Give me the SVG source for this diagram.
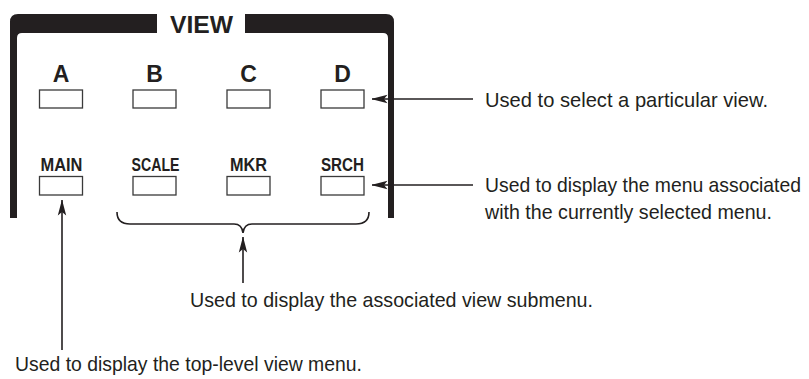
<svg xmlns="http://www.w3.org/2000/svg" width="809" height="379" viewBox="0 0 809 379">
<style>
.frame{fill:#231f20}
.btn{fill:#fff;stroke:#3a3a3a;stroke-width:1.3}
.lbl{font-family:"Liberation Sans",Arial,sans-serif;font-weight:bold;fill:#231f20;text-anchor:middle}
.big{font-size:23px}
.sm{font-size:19px}
.note{font-family:"Liberation Sans",Arial,sans-serif;font-size:21px;fill:#231f20}
.ln{stroke:#231f20;stroke-width:1.6;fill:none}
</style>
<defs>
<marker id="ah" viewBox="0 0 16 10" refX="15.5" refY="5" markerWidth="16" markerHeight="10" markerUnits="userSpaceOnUse" orient="auto">
<path d="M16,5 L0,0.8 L3.5,5 L0,9.2 Z" fill="#231f20"/>
</marker>
</defs>
<g id="panel">
<path class="frame" d="M10,218 V22 Q10,14 18,14 H157 V33 H22 Q17,33 17,38 V218 Z"/>
<path class="frame" d="M245,14 H386 Q394,14 394,22 V218 H388 V38 Q388,33 383,33 H245 Z"/>
<text class="lbl" x="201.5" y="33" font-size="24" textLength="63" lengthAdjust="spacingAndGlyphs">VIEW</text>
</g>
<g id="btnA"><text class="lbl big" x="61" y="82">A</text><rect class="btn" x="39.5" y="90" width="43" height="18"/></g>
<g id="btnB"><text class="lbl big" x="154.5" y="82">B</text><rect class="btn" x="133" y="90" width="43" height="18"/></g>
<g id="btnC"><text class="lbl big" x="248.5" y="82">C</text><rect class="btn" x="227" y="90" width="43" height="18"/></g>
<g id="btnD"><text class="lbl big" x="342.5" y="82">D</text><rect class="btn" x="321" y="90" width="43" height="18"/></g>
<g id="btnMAIN"><text class="lbl sm" x="61.5" y="171" textLength="42" lengthAdjust="spacingAndGlyphs">MAIN</text><rect class="btn" x="39.5" y="176.5" width="43" height="18.5"/></g>
<g id="btnSCALE"><text class="lbl sm" x="155.5" y="171" textLength="48" lengthAdjust="spacingAndGlyphs">SCALE</text><rect class="btn" x="133" y="176.5" width="43" height="18.5"/></g>
<g id="btnMKR"><text class="lbl sm" x="248.5" y="171" textLength="37" lengthAdjust="spacingAndGlyphs">MKR</text><rect class="btn" x="227" y="176.5" width="43" height="18.5"/></g>
<g id="btnSRCH"><text class="lbl sm" x="342.5" y="171" textLength="43" lengthAdjust="spacingAndGlyphs">SRCH</text><rect class="btn" x="321" y="176.5" width="43" height="18.5"/></g>
<g id="connectors">
<line class="ln" x1="473" y1="99" x2="372" y2="99" marker-end="url(#ah)"/>
<line class="ln" x1="473" y1="185" x2="372" y2="185" marker-end="url(#ah)"/>
<line class="ln" x1="62" y1="350" x2="62" y2="200" marker-end="url(#ah)"/>
<line class="ln" x1="243" y1="283" x2="243" y2="237" marker-end="url(#ah)"/>
<path class="ln" stroke-width="1.8" d="M117,212 Q117,224 130,224 H234 Q242,224 243,233 Q244,224 252,224 H356 Q369,224 369,212"/>
</g>
<g id="notes">
<text class="note" x="485" y="107" textLength="283" lengthAdjust="spacingAndGlyphs">Used to select a particular view.</text>
<text class="note" x="485" y="192" textLength="316" lengthAdjust="spacingAndGlyphs">Used to display the menu associated</text>
<text class="note" x="485" y="219" textLength="287" lengthAdjust="spacingAndGlyphs">with the currently selected menu.</text>
<text class="note" x="190" y="307" textLength="403" lengthAdjust="spacingAndGlyphs">Used to display the associated view submenu.</text>
<text class="note" x="15" y="371" textLength="347" lengthAdjust="spacingAndGlyphs">Used to display the top-level view menu.</text>
</g>
</svg>
